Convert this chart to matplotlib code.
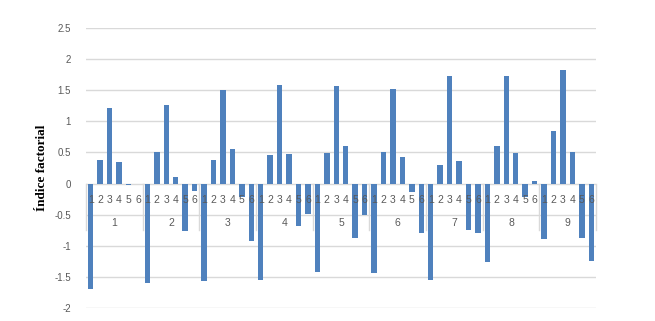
import matplotlib
matplotlib.use("Agg")
import matplotlib.pyplot as plt
import numpy as np

groups = ["1", "2", "3", "4", "5", "6", "7", "8", "9"]
subcats = ["1", "2", "3", "4", "5", "6"]
values = [
    [-1.70, 0.376, 1.22, 0.35, -0.027, 0.0],
    [-1.61, 0.50, 1.26, 0.11, -0.76, -0.124],
    [-1.575, 0.38, 1.505, 0.554, -0.22, -0.92],
    [-1.55, 0.457, 1.586, 0.468, -0.69, -0.484],
    [-1.43, 0.484, 1.575, 0.597, -0.87, -0.505],
    [-1.435, 0.50, 1.527, 0.435, -0.134, -0.79],
    [-1.548, 0.306, 1.737, 0.366, -0.742, -0.80],
    [-1.258, 0.597, 1.737, 0.484, -0.215, 0.043],
    [-0.887, 0.85, 1.833, 0.50, -0.871, -1.247],
]
yticks = [-2, -1.5, -1, -0.5, 0, 0.5, 1, 1.5, 2, 2.5]
ylabel = "Índice factorial"

W, H = 655, 321
fig = plt.figure(figsize=(W / 100, H / 100), dpi=100)
left, right = 86 / W, 596 / W
ybot, ytop = (H - 307.7) / H, (H - 28.3) / H
ax = fig.add_axes([left, ybot, right - left, ytop - ybot])

n = len(subcats)
flat = [v for g in values for v in g]
x = np.arange(len(flat))
ax.bar(x, flat, width=0.58, color="#4F81BD", zorder=2)

ax.set_xlim(-0.5, len(flat) - 0.5)
ax.set_ylim(-2, 2.5)
ax.set_yticks(yticks)
ax.set_yticklabels([f"{t:g}" for t in yticks], color="#595959",
                   fontsize=7, family="Liberation Sans")
ax.tick_params(axis="y", length=0, pad=11)
ax.tick_params(axis="x", length=0, labelbottom=False)
for s in ax.spines.values():
    s.set_visible(False)
for t in yticks:
    ax.axhline(t, color="#D9D9D9", lw=1, zorder=1)

# category axis labels
for gi, g in enumerate(groups):
    for si, s in enumerate(subcats):
        ax.text(gi * n + si, -0.26, s, ha="center", va="center",
                fontsize=7.5, color="#595959", family="Liberation Sans", zorder=5)
    ax.text(gi * n + (n - 1) / 2, -0.635, g, ha="center", va="center",
            fontsize=7.5, color="#595959", family="Liberation Sans", zorder=5)
for b in range(len(groups) + 1):
    ax.plot([b * n - 0.5, b * n - 0.5], [0, -0.75], color="#D9D9D9", lw=1,
            zorder=1, clip_on=False)

fig.text(42 / W, 1 - 168 / H, ylabel, rotation=90, ha="center", va="center",
         fontsize=9.5, fontweight="bold", family="Liberation Serif")

fig.savefig("out.png", dpi=100, facecolor="white")
